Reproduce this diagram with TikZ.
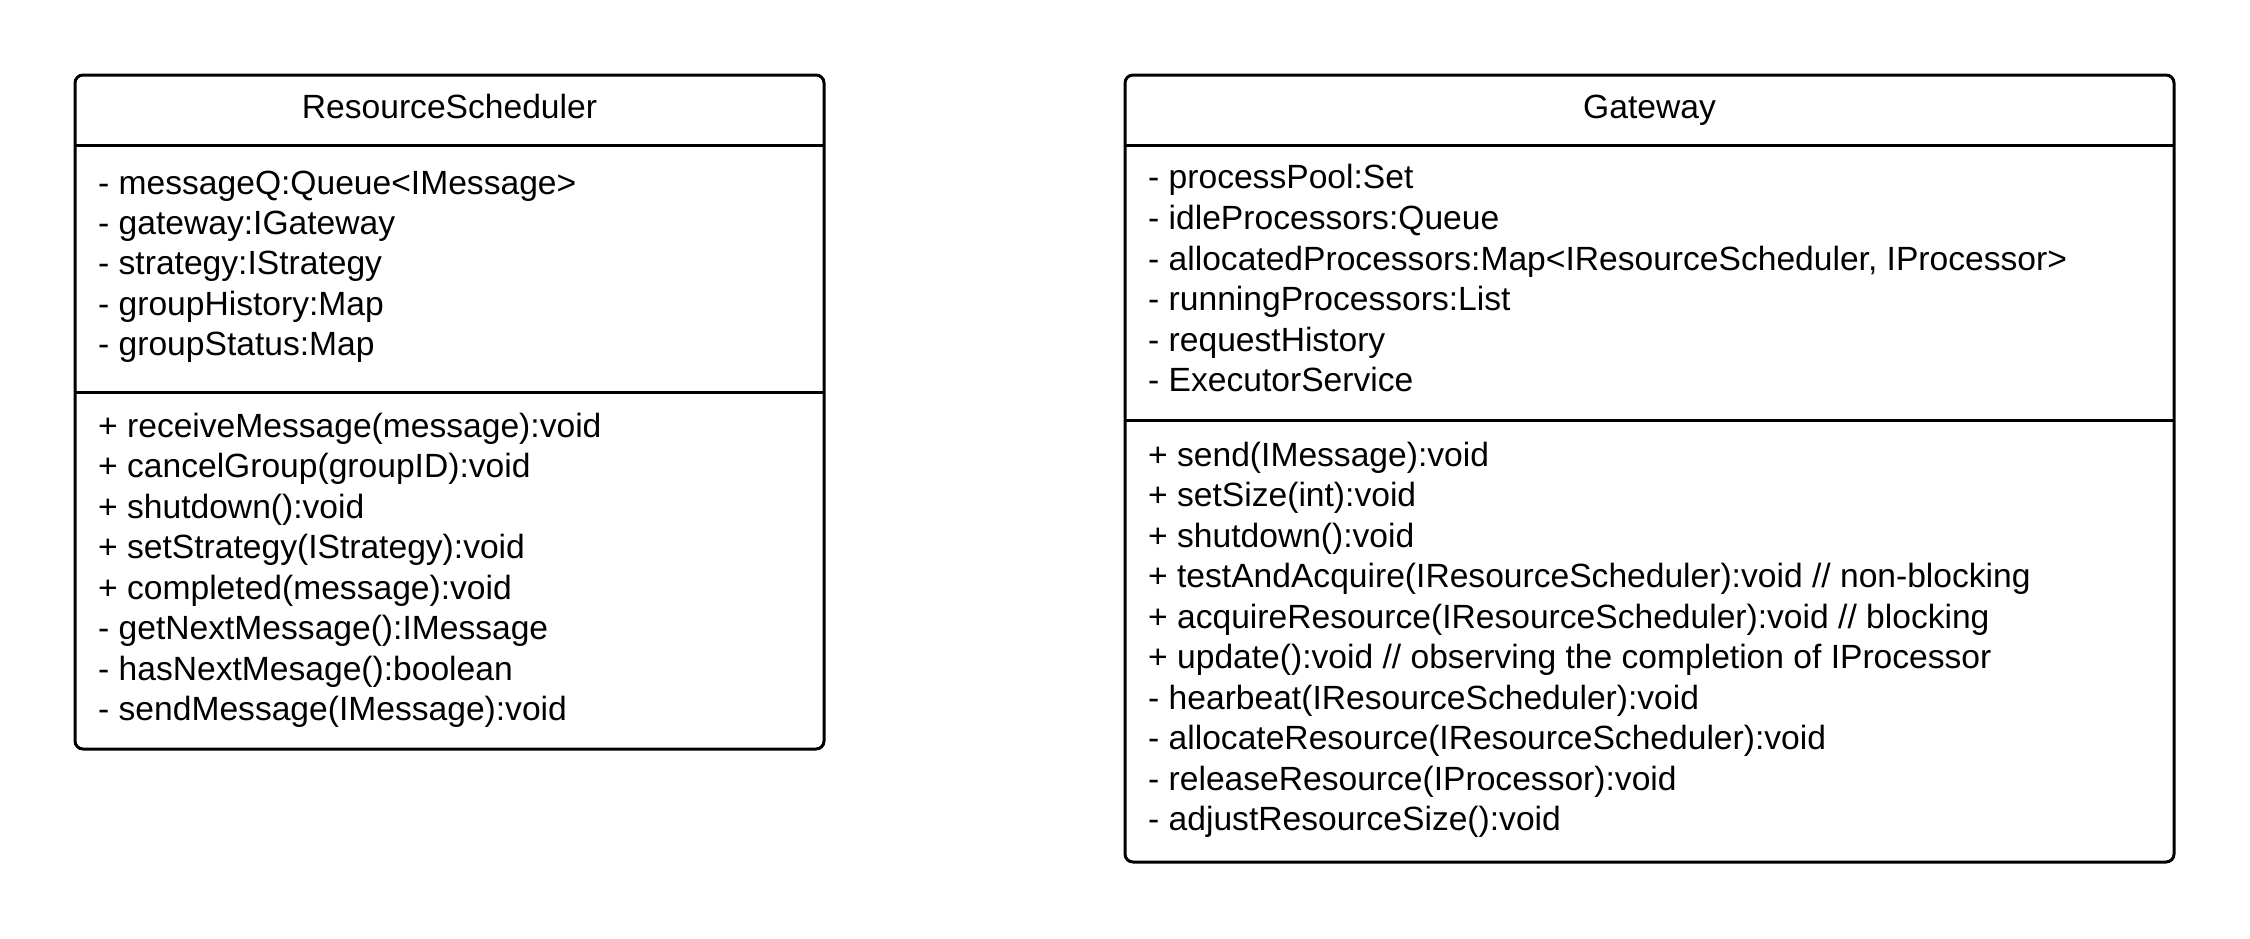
\documentclass[tikz,border=0pt]{standalone}
\usepackage{fontspec}
\setmainfont{Liberation Sans}
\begin{document}
\begin{tikzpicture}[x=1pt,y=-1pt,
  box/.style={draw, line width=3pt, rounded corners=8pt, inner sep=0pt, outer sep=0pt, anchor=north west},
  sepline/.style={line width=3pt},
  txt/.style={font=\fontsize{33.6}{40.5}\selectfont, inner sep=0pt, anchor=base west},
  ttl/.style={font=\fontsize{33.6}{40.5}\selectfont, inner sep=0pt, anchor=base}]
\useasboundingbox[fill=white] (0,0) rectangle (2250,938);

% ResourceScheduler
\node[box, minimum width=749pt, minimum height=674pt] (rs) at (75,75) {};
\draw[sepline] (rs.north west) ++(0,70) coordinate (rsh) -- ++(749,0);
\draw[sepline] (rs.north west) ++(0,317) coordinate (rsd) -- ++(749,0);
\node[ttl] (rst) at (449.5,118) {ResourceScheduler};
\foreach \t [count=\i from 0] in {
  {- messageQ:Queue<IMessage>},
  {- gateway:IGateway},
  {- strategy:IStrategy},
  {- groupHistory:Map},
  {- groupStatus:Map}}
  \node[txt] (rsa\i) at (98,194.4+\i*40.2) {\t};
\foreach \t [count=\i from 0] in {
  {+ receiveMessage(message):void},
  {+ cancelGroup(groupID):void},
  {+ shutdown():void},
  {+ setStrategy(IStrategy):void},
  {+ completed(message):void},
  {- getNextMessage():IMessage},
  {- hasNextMesage():boolean},
  {- sendMessage(IMessage):void}}
  \node[txt] (rso\i) at (98,437.3+\i*40.5) {\t};

% Gateway
\node[box, minimum width=1049pt, minimum height=787pt] (gw) at (1125,75) {};
\draw[sepline] (gw.north west) ++(0,70) coordinate (gwh) -- ++(1049,0);
\draw[sepline] (gw.north west) ++(0,345) coordinate (gwd) -- ++(1049,0);
\node[ttl] (gwt) at (1649.5,118) {Gateway};
\foreach \t [count=\i from 0] in {
  {- processPool:Set},
  {- idleProcessors:Queue},
  {- allocatedProcessors:Map<IResourceScheduler, IProcessor>},
  {- runningProcessors:List},
  {- requestHistory},
  {- ExecutorService}}
  \node[txt] (gwa\i) at (1148,188.8+\i*40.6) {\t};
\foreach \t [count=\i from 0] in {
  {+ send(IMessage):void},
  {+ setSize(int):void},
  {+ shutdown():void},
  {+ testAndAcquire(IResourceScheduler):void // non-blocking},
  {+ acquireResource(IResourceScheduler):void // blocking},
  {+ update():void // observing the completion of IProcessor},
  {- hearbeat(IResourceScheduler):void},
  {- allocateResource(IResourceScheduler):void},
  {- releaseResource(IProcessor):void},
  {- adjustResourceSize():void}}
  \node[txt] (gwo\i) at (1148,466.3+\i*40.5) {\t};
\end{tikzpicture}
\end{document}
